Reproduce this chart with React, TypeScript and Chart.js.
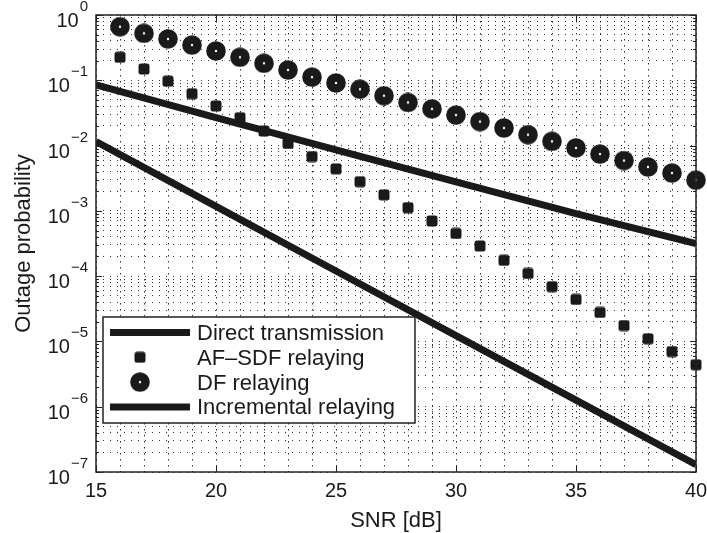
import React, { useEffect, useRef } from 'react';
import { Chart, registerables } from 'chart.js';

Chart.register(...registerables);

// ---- data ----
const snrDb = [16, 17, 18, 19, 20, 21, 22, 23, 24, 25, 26, 27, 28, 29, 30, 31, 32, 33, 34, 35, 36, 37, 38, 39, 40];
const afSdfRelaying = [0.225, 0.149, 0.097, 0.0623, 0.0404, 0.0267, 0.0167, 0.0108, 0.0068, 0.0044, 0.0028, 0.00176, 0.00112, 0.0007, 0.00045, 0.00029, 0.000175, 0.00011, 0.000069, 0.000044, 0.0000278, 0.0000175, 0.000011, 0.000007, 0.0000044];
const dfRelaying = [0.66, 0.524, 0.43, 0.347, 0.281, 0.225, 0.182, 0.144, 0.112, 0.091, 0.073, 0.058, 0.0457, 0.0365, 0.0293, 0.0233, 0.0186, 0.0147, 0.0116, 0.0092, 0.0074, 0.0059, 0.0047, 0.0038, 0.00295];
const lineSnrDb = [15, 20, 25, 30, 35, 40];
const directTransmission = [0.085, 0.0269, 0.0086, 0.00279, 0.00091, 0.000316];
const incrementalRelaying = [0.0115, 0.00117, 0.00012, 0.0000123, 0.00000126, 0.000000129];
const seriesLabels = ['Direct transmission', 'AF\u2013SDF relaying', 'DF relaying', 'Incremental relaying'];
const xTickValues = [15, 20, 25, 30, 35, 40];
const yTickExponents = [0, -1, -2, -3, -4, -5, -6, -7];
const xAxisTitle = 'SNR [dB]';
const yAxisTitle = 'Outage probability';

const FONT = '"Liberation Sans", Arial, Helvetica, sans-serif';
const INK = '#1a1a1a';

function makeCircle(): HTMLCanvasElement {
  const c = document.createElement('canvas');
  c.width = 20; c.height = 20;
  const g = c.getContext('2d')!;
  g.fillStyle = INK;
  g.beginPath(); g.arc(10, 10, 9.8, 0, Math.PI * 2); g.fill();
  g.fillStyle = '#fff';
  g.beginPath(); g.arc(10, 10, 1.2, 0, Math.PI * 2); g.fill();
  return c;
}

function makeSquare(): HTMLCanvasElement {
  const c = document.createElement('canvas');
  c.width = 12; c.height = 12;
  const g = c.getContext('2d')!;
  g.fillStyle = INK;
  g.beginPath();
  (g as any).roundRect ? (g as any).roundRect(0.5, 0.5, 11, 11, 2.5) : g.rect(0.5, 0.5, 11, 11);
  g.fill();
  return c;
}

const yGridValues: number[] = (() => {
  const out: number[] = [];
  for (let e = -7; e < 0; e++) for (let m = 1; m <= 9; m++) out.push(m * Math.pow(10, e));
  out.push(1);
  return out;
})();

const matlabPlugin = {
  id: 'matlabDecor',
  afterDraw(chart: any) {
    const { ctx, chartArea: a, scales } = chart;
    const xs = scales.x, ys = scales.y;
    ctx.save();
    // inward ticks
    ctx.strokeStyle = '#222';
    ctx.lineWidth = 1;
    ctx.beginPath();
    for (const v of xTickValues) {
      const px = Math.round(xs.getPixelForValue(v)) + 0.5;
      ctx.moveTo(px, a.bottom); ctx.lineTo(px, a.bottom - 6);
      ctx.moveTo(px, a.top); ctx.lineTo(px, a.top + 6);
    }
    for (const t of ys.ticks) {
      const lg = Math.log10(t.value);
      const major = Math.abs(lg - Math.round(lg)) < 1e-6;
      const len = major ? 6 : 3;
      const py = Math.round(ys.getPixelForValue(t.value)) + 0.5;
      ctx.moveTo(a.left, py); ctx.lineTo(a.left + len, py);
      ctx.moveTo(a.right, py); ctx.lineTo(a.right - len, py);
    }
    ctx.stroke();
    // box
    ctx.lineWidth = 1.5;
    ctx.strokeRect(a.left, a.top, a.right - a.left, a.bottom - a.top);

    // x tick labels
    ctx.fillStyle = INK;
    ctx.font = `20px ${FONT}`;
    ctx.textAlign = 'center';
    ctx.textBaseline = 'alphabetic';
    for (const v of xTickValues) {
      ctx.fillText(String(v), xs.getPixelForValue(v), a.bottom + 25);
    }
    // y tick labels 10^e
    for (const e of yTickExponents) {
      const py = ys.getPixelForValue(Math.pow(10, e));
      const exp = e === 0 ? '0' : '\u2212' + String(-e);
      ctx.font = `15px ${FONT}`;
      ctx.textAlign = 'right';
      const w = ctx.measureText(exp).width;
      ctx.fillText(exp, a.left - 8, py - 4);
      ctx.font = `20px ${FONT}`;
      ctx.fillText('10', a.left - 8 - w - 1, py + 12);
    }
    // axis titles
    ctx.font = `22px ${FONT}`;
    ctx.textAlign = 'center';
    ctx.fillText(xAxisTitle, (a.left + a.right) / 2, a.bottom + 55);
    ctx.save();
    ctx.translate(30, (a.top + a.bottom) / 2);
    ctx.rotate(-Math.PI / 2);
    ctx.fillText(yAxisTitle, 0, 0);
    ctx.restore();

    // legend
    const lx = 103, ly = 317, lw = 312, lh = 106;
    ctx.fillStyle = '#fff';
    ctx.fillRect(lx, ly, lw, lh);
    ctx.strokeStyle = '#222';
    ctx.lineWidth = 1.5;
    ctx.strokeRect(lx, ly, lw, lh);
    chart.data.datasets.forEach((ds: any, i: number) => {
      const cy = ly + 15.5 + i * 24.8;
      if (ds.showLine) {
        ctx.strokeStyle = INK;
        ctx.lineWidth = 7;
        ctx.beginPath();
        ctx.moveTo(lx + 7, cy); ctx.lineTo(lx + 87, cy);
        ctx.stroke();
      } else {
        const img = ds.pointStyle as HTMLCanvasElement;
        ctx.drawImage(img, lx + 37 - img.width / 2, cy - img.height / 2);
      }
      ctx.fillStyle = INK;
      ctx.font = `22px ${FONT}`;
      ctx.textAlign = 'left';
      ctx.fillText(ds.label, lx + 94, cy + 7.5);
    });
    ctx.restore();
  },
};

export default function App() {
  const ref = useRef<HTMLCanvasElement>(null);
  useEffect(() => {
    const canvas = ref.current!;
    const circle = makeCircle();
    const square = makeSquare();
    const chart = new Chart(canvas, {
      type: 'scatter',
      data: {
        datasets: [
          {
            label: seriesLabels[0],
            data: lineSnrDb.map((x, i) => ({ x, y: directTransmission[i] })),
            showLine: true,
            borderColor: INK,
            borderWidth: 7,
            pointRadius: 0,
            clip: 0,
          } as any,
          {
            label: seriesLabels[1],
            data: snrDb.map((x, i) => ({ x, y: afSdfRelaying[i] })),
            showLine: false,
            pointStyle: square,
            pointRadius: 6,
            clip: false,
          } as any,
          {
            label: seriesLabels[2],
            data: snrDb.map((x, i) => ({ x, y: dfRelaying[i] })),
            showLine: false,
            pointStyle: circle,
            pointRadius: 10,
            clip: false,
          } as any,
          {
            label: seriesLabels[3],
            data: lineSnrDb.map((x, i) => ({ x, y: incrementalRelaying[i] })),
            showLine: true,
            borderColor: INK,
            borderWidth: 7,
            pointRadius: 0,
            clip: 0,
          } as any,
        ],
      },
      options: {
        animation: false,
        responsive: false,
        devicePixelRatio: 1,
        events: [],
        layout: { padding: { top: 15, right: 10, left: 0, bottom: 0 } },
        plugins: { legend: { display: false }, tooltip: { enabled: false } },
        scales: {
          x: {
            type: 'linear',
            min: 15,
            max: 40,
            ticks: { stepSize: 1, display: false },
            grid: { color: 'rgba(0,0,0,0.8)', lineWidth: 1, drawTicks: false },
            border: { display: false, dash: [1.5, 4.5] },
            afterFit: (s: any) => { s.height = 61; },
          },
          y: {
            type: 'logarithmic',
            min: 1e-7,
            max: 1,
            ticks: { display: false },
            afterBuildTicks: (s: any) => { s.ticks = yGridValues.map((v) => ({ value: v })); },
            grid: { color: 'rgba(0,0,0,0.8)', lineWidth: 1, drawTicks: false },
            border: { display: false, dash: [1, 6] },
            afterFit: (s: any) => { s.width = 96; },
          },
        },
      } as any,
      plugins: [matlabPlugin],
    });
    return () => chart.destroy();
  }, []);
  return (
    <div style={{ position: 'fixed', left: 0, top: 0, width: 707, height: 533, background: '#fff' }}>
      <canvas ref={ref} width={707} height={533} style={{ display: 'block', width: 707, height: 533 }} />
    </div>
  );
}
